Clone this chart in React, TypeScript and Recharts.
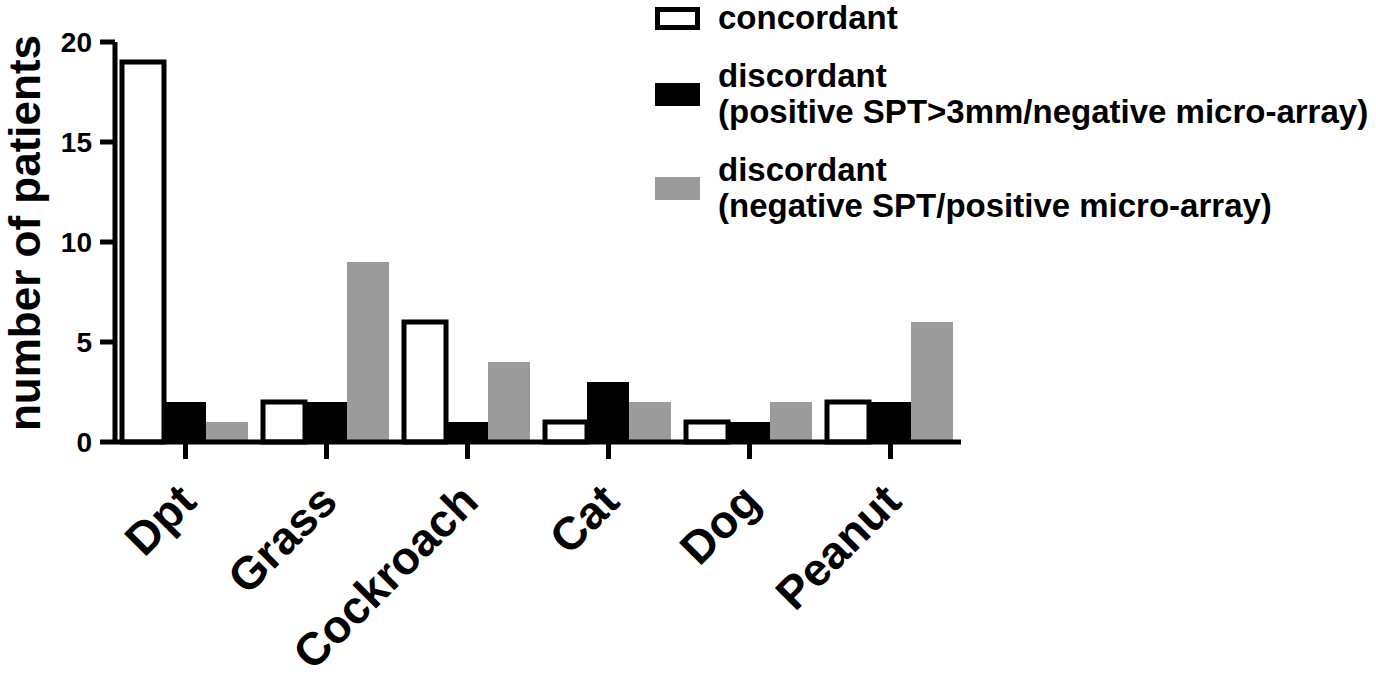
import React from 'react';
import { BarChart, Bar, XAxis, YAxis, Legend } from 'recharts';

const categories = ['Dpt', 'Grass', 'Cockroach', 'Cat', 'Dog', 'Peanut'];
const concordant = [19, 2, 6, 1, 1, 2];
const discordantPositiveSpt = [2, 2, 1, 3, 1, 2];
const discordantNegativeSpt = [1, 9, 4, 2, 2, 6];
const yTicks = [0, 5, 10, 15, 20];

const seriesOrder = ['concordant', 'discordantPositiveSpt', 'discordantNegativeSpt'];
const legendLines: Record<string, string[]> = {
  concordant: ['concordant'],
  discordantPositiveSpt: ['discordant', '(positive SPT>3mm/negative micro-array)'],
  discordantNegativeSpt: ['discordant', '(negative SPT/positive micro-array)'],
};

const FONT = '"Liberation Sans", Arial, sans-serif';
const GREY = '#9b9b9b';

const data = categories.map((name, i) => ({
  name,
  concordant: concordant[i],
  discordantPositiveSpt: discordantPositiveSpt[i],
  discordantNegativeSpt: discordantNegativeSpt[i],
}));

// rotated category labels, ending just under the tick
const CategoryTick = ({ x, y, payload }: any) => (
  <text
    x={x + 13}
    y={y}
    transform={`rotate(-45 ${x + 13} ${y})`}
    textAnchor="end"
    fontFamily={FONT}
    fontWeight={700}
    fontSize={46}
    fill="#000"
  >
    {payload.value}
  </text>
);

const YAxisTitle = ({ viewBox }: any) => {
  const cx = viewBox.x + 40;
  const cy = viewBox.y + viewBox.height / 2 - 9;
  return (
    <text
      x={cx}
      y={cy}
      transform={`rotate(-90 ${cx} ${cy})`}
      textAnchor="middle"
      fontFamily={FONT}
      fontWeight={700}
      fontSize={44}
      fill="#000"
    >
      number of patients
    </text>
  );
};

const swatch: Record<string, React.CSSProperties> = {
  concordant: { background: '#fff', border: '5px solid #000' },
  discordantPositiveSpt: { background: '#000' },
  discordantNegativeSpt: { background: GREY },
};

const LegendContent = ({ payload }: any) => {
  const items = [...(payload || [])].sort(
    (a: any, b: any) => seriesOrder.indexOf(a.dataKey) - seriesOrder.indexOf(b.dataKey)
  );
  return (
    <div style={{ fontFamily: FONT, fontWeight: 700, fontSize: 33, lineHeight: '36px', color: '#000' }}>
      {items.map((entry: any) => {
        const key = entry.dataKey as string;
        return (
          <div key={key} style={{ display: 'flex', alignItems: 'center', marginBottom: 22 }}>
            <div style={{ width: 45, height: 23, boxSizing: 'border-box', flexShrink: 0, marginRight: 18, ...swatch[key] }} />
            <div style={{ whiteSpace: 'nowrap' }}>
              {legendLines[key].map((line) => (
                <div key={line}>{line}</div>
              ))}
            </div>
          </div>
        );
      })}
    </div>
  );
};

export default function App() {
  return (
    <div style={{ position: 'absolute', left: 0, top: 0, width: 1376, height: 680, background: '#fff' }}>
      <BarChart
        width={1376}
        height={680}
        data={data}
        margin={{ top: 42, right: 415, bottom: 0, left: 0 }}
        barCategoryGap={7}
        barGap={0}
      >
        <XAxis
          dataKey="name"
          height={238}
          interval={0}
          axisLine={{ stroke: '#000', strokeWidth: 5 }}
          tickLine={{ stroke: '#000', strokeWidth: 5 }}
          tickSize={17}
          tickMargin={45}
          tick={<CategoryTick />}
        />
        <YAxis
          width={115}
          domain={[0, 20]}
          ticks={yTicks}
          interval={0}
          axisLine={{ stroke: '#000', strokeWidth: 5 }}
          tickLine={{ stroke: '#000', strokeWidth: 5 }}
          tickSize={15}
          tickMargin={8}
          tick={{ fontFamily: FONT, fontWeight: 700, fontSize: 28, fill: '#000' }}
          label={<YAxisTitle />}
        />
        <Legend
          layout="vertical"
          align="center"
          verticalAlign="middle"
          content={<LegendContent />}
          wrapperStyle={{ left: 655, top: 0, width: 'auto', height: 'auto' }}
        />
        <Bar dataKey="concordant" fill="#fff" stroke="#000" strokeWidth={5} isAnimationActive={false} />
        <Bar dataKey="discordantPositiveSpt" fill="#000" isAnimationActive={false} />
        <Bar dataKey="discordantNegativeSpt" fill={GREY} isAnimationActive={false} />
      </BarChart>
    </div>
  );
}
